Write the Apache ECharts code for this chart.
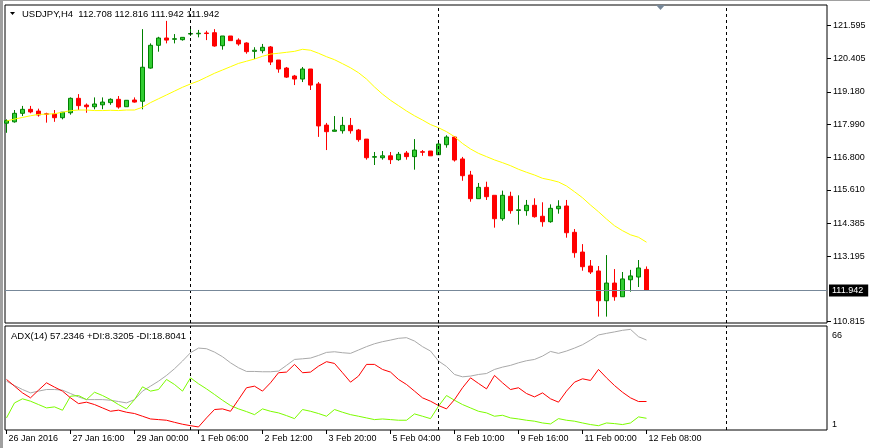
<!DOCTYPE html>
<html><head><meta charset="utf-8">
<script src="https://cdn.jsdelivr.net/npm/echarts@6/dist/echarts.min.js"></script>
<style>html,body{margin:0;padding:0;background:#fff}#c{width:870px;height:448px}</style>
</head><body><div id="c"></div><script>
const symbol = 'USDJPY,H4';
const timeLabels = ['26 Jan 2016','27 Jan 16:00','29 Jan 00:00','1 Feb 06:00','2 Feb 12:00','3 Feb 20:00','5 Feb 04:00','8 Feb 10:00','9 Feb 16:00','11 Feb 00:00','12 Feb 08:00'];
const labelBars = [0,8,16,24,32,40,48,56,64,72,80];
const opens = [118.04,118.09,118.40,118.545,118.48,118.38,118.375,118.24,118.42,118.947,
118.70,118.64,118.71,118.79,118.91,118.64,118.885,118.84,120.05,120.88,
121.146,121.10,121.085,121.29,121.30,121.33,121.34,120.866,121.22,121.07,
120.964,120.66,120.683,120.82,120.344,120.05,119.76,119.65,120.016,119.47,
117.97,117.744,117.765,117.96,117.79,117.46,116.80,116.78,116.85,116.71,
116.95,116.82,117.00,117.025,116.89,117.255,117.535,116.735,116.15,115.287,
115.70,115.41,114.556,115.374,114.86,114.85,115.045,114.645,114.447,114.92,
115.02,114.06,113.34,112.83,112.65,111.565,112.21,111.71,112.33,112.43,
112.708];
const highs = [118.18,118.52,118.67,118.67,118.57,118.42,118.52,118.44,118.98,119.10,
118.76,118.98,118.98,118.947,119.03,118.88,118.98,121.47,120.95,121.19,
121.77,121.29,121.17,121.54,121.44,121.41,121.47,121.22,121.22,121.135,
120.99,120.81,120.93,120.855,120.344,120.09,119.80,120.09,120.016,119.54,
118.05,118.30,118.27,118.23,117.83,117.46,116.99,117.025,116.99,116.99,
117.025,117.46,117.06,117.025,117.317,117.60,117.57,116.81,116.30,115.86,
115.906,115.41,115.58,115.54,115.41,115.24,115.30,115.155,115.08,115.23,
115.24,114.18,113.63,113.05,112.83,113.23,112.72,112.613,112.69,113.05,
112.816];
const lows = [117.69,118.06,118.30,118.40,118.28,118.06,118.09,118.18,118.35,118.52,
118.42,118.545,118.55,118.71,118.57,118.64,118.79,118.545,120.027,120.647,
120.95,120.95,121.05,121.22,121.17,121.07,120.83,120.72,121.05,120.866,
120.574,120.38,120.59,120.16,119.88,119.69,119.43,119.54,119.25,117.54,
117.06,117.74,117.66,117.66,117.365,116.71,116.515,116.71,116.55,116.67,
116.71,116.345,116.85,116.85,116.89,117.146,116.64,115.94,115.177,115.287,
115.24,114.23,114.48,114.74,114.34,114.665,114.595,114.265,114.41,114.74,
113.864,113.134,112.66,112.54,110.985,110.985,111.565,111.71,111.895,112.065,
111.942];
const closes = [118.13,118.40,118.545,118.45,118.34,118.37,118.24,118.44,118.947,118.68,
118.64,118.74,118.81,118.91,118.63,118.875,118.81,120.08,120.88,121.146,
121.07,121.12,121.17,121.31,121.32,121.31,120.855,121.22,121.05,120.93,
120.647,120.70,120.807,120.27,120.016,119.72,119.65,120.016,119.43,117.94,
117.73,117.79,117.96,117.765,117.44,116.78,116.82,116.85,116.71,116.905,
116.82,117.06,116.98,116.85,117.28,117.535,116.697,116.125,115.287,115.70,
115.36,114.556,115.41,114.85,114.88,115.045,114.63,114.447,114.935,115.01,
114.045,113.317,112.806,112.613,111.565,112.21,111.71,112.36,112.47,112.76,
111.942];
const ma = [118.12,118.19,118.25,118.31,118.36,118.37,118.385,118.44,118.495,118.52,
118.52,118.50,118.50,118.51,118.50,118.52,118.52,118.62,118.79,118.93,
119.07,119.21,119.35,119.47,119.58,119.72,119.86,119.98,120.10,120.22,
120.30,120.38,120.48,120.56,120.59,120.625,120.66,120.735,120.70,120.59,
120.465,120.355,120.21,120.06,119.88,119.65,119.36,119.10,118.875,118.68,
118.485,118.31,118.156,117.99,117.875,117.73,117.548,117.30,117.10,116.94,
116.82,116.70,116.60,116.49,116.36,116.25,116.15,116.03,115.97,115.895,
115.75,115.54,115.32,115.055,114.81,114.545,114.30,114.12,113.97,113.88,
113.70];
const adx = [31.5,28.8,26.3,24.2,25.3,26.3,26.3,25.9,23.8,21.7,
20.0,20.0,20.0,19.6,18.8,17.95,20.0,25.3,28.4,31.5,
35.1,39.3,44.1,49.3,52.2,51.8,49.7,46.8,43.0,39.9,
37.6,37.6,37.4,37.4,37.8,41.4,45.1,45.5,45.96,47.6,
49.5,49.9,49.3,48.9,51.0,53.1,54.9,56.2,57.2,58.3,
58.7,56.6,53.1,50.35,44.1,40.7,35.7,34.25,34.7,35.7,
36.3,38.85,40.3,41.4,43.0,44.3,45.1,47.2,50.1,48.9,
50.35,52.2,54.3,57.2,60.4,61.4,62.3,63.3,63.9,59.3,
57.2346];
const plusDI = [8.55,17.95,20.5,19.0,16.9,14.8,15.45,13.35,22.1,22.55,
20.0,24.6,22.55,20.0,16.9,14.2,20.0,28.0,25.3,26.3,
32.6,29.45,25.3,33.6,29.9,26.7,23.2,19.6,16.3,14.2,
12.5,10.6,14.2,12.7,11.7,10.0,8.1,13.8,12.7,11.3,
9.6,13.8,12.1,10.6,9.6,8.55,7.5,7.9,7.5,7.1,
7.1,11.05,9.6,8.1,15.9,22.55,19.6,16.9,14.8,12.7,
11.7,9.6,10.2,8.55,7.9,7.1,6.5,5.4,4.8,8.1,
7.1,6.5,5.4,4.4,3.7,5.4,5.0,4.4,5.4,9.2,
8.3205];
const minusDI = [32.6,28.4,24.2,21.1,25.9,30.5,27.8,25.3,21.1,17.5,
18.4,16.9,14.8,12.7,13.4,12.1,11.3,9.6,7.9,7.5,
7.1,5.8,4.6,3.7,2.9,8.55,13.8,14.2,12.7,20.0,
27.4,28.4,25.3,30.5,36.8,37.2,42.0,36.8,37.2,40.9,
43.7,42.6,36.8,30.9,34.7,42.0,42.0,38.85,37.2,32.6,
29.45,25.3,21.1,19.0,16.3,14.2,20.0,27.4,33.6,30.1,
26.7,35.1,30.5,26.3,27.4,23.8,21.7,24.2,20.5,18.4,
25.3,30.9,33.0,31.96,38.85,33.6,28.8,24.6,21.1,18.8,
18.8041];
const priceTicks = [121.595,120.405,119.180,117.990,116.800,115.610,114.385,113.195,110.815];
const adxTicks = [1,66];
const separators = [23,54,90];
const lastPrice = 111.942;

const FONT = '"Liberation Sans", Arial, sans-serif';
const n = opens.length;
const xMin = -0.1875, xMax = -0.1875 + 822/8;
const candleData = opens.map((o,i)=>[i, o, closes[i], lows[i], highs[i]]);
const toXY = arr => arr.map((v,i)=>[i,v]);
const sepLine = () => ({
  symbol:'none', silent:true, animation:false,
  lineStyle:{color:'#000', type:[3,3], width:1},
  label:{show:false},
  data: separators.map(s=>({xAxis:s}))
});

const chart = echarts.init(document.getElementById('c'), null, {renderer:'canvas'});
chart.setOption({
  animation:false,
  backgroundColor:'#fff',
  grid:[
    {left:5, top:5, width:822, height:318, show:true, borderColor:'#000', borderWidth:1, backgroundColor:'#fff'},
    {left:5, top:326, width:822, height:104, show:true, borderColor:'#000', borderWidth:1, backgroundColor:'#fff'}
  ],
  xAxis:[
    {type:'value', gridIndex:0, min:xMin, max:xMax, axisLine:{show:false, onZero:false}, axisTick:{show:false}, axisLabel:{show:false}, splitLine:{show:false}},
    {type:'value', gridIndex:1, min:xMin, max:xMax, axisLine:{show:false, onZero:false}, splitLine:{show:false},
      axisTick:{show:true, customValues:labelBars, length:4, inside:false, lineStyle:{color:'#000'}},
      axisLabel:{show:true, customValues:labelBars, align:'left', margin:4, padding:[0,0,0,2],
        fontFamily:FONT, fontSize:9, color:'#000',
        formatter: v => timeLabels[labelBars.indexOf(Math.round(v))] || ''}}
  ],
  yAxis:[
    {type:'value', gridIndex:0, position:'right', min:110.753, max:122.350, scale:true,
      axisLine:{show:false, onZero:false}, splitLine:{show:false},
      axisTick:{show:true, customValues:priceTicks, length:4, inside:false, lineStyle:{color:'#000'}},
      axisLabel:{show:true, customValues:priceTicks, margin:6, fontFamily:FONT, fontSize:9, color:'#000',
        formatter: v => v.toFixed(3)}},
    {type:'value', gridIndex:1, position:'right', min:1, max:66,
      axisLine:{show:false, onZero:false}, splitLine:{show:false}, axisTick:{show:false},
      axisLabel:{show:true, customValues:adxTicks, margin:5, fontFamily:FONT, fontSize:9, color:'#000',
        verticalAlignMinLabel:'bottom', verticalAlignMaxLabel:'top', padding:[5,0,1,0],
        formatter: v => String(Math.round(v))}}
  ],
  series:[
    {type:'candlestick', xAxisIndex:0, yAxisIndex:0, data:candleData, encode:{x:0, y:[1,2,3,4]},
      barWidth:4, silent:true,
      itemStyle:{color:'#32CD32', color0:'#FF0000', borderColor:'#008000', borderColor0:'#FF0000', borderWidth:1}},
    {type:'line', xAxisIndex:0, yAxisIndex:0, data:toXY(ma), symbol:'none', silent:true, clip:false,
      lineStyle:{color:'#FFFF00', width:1}, markLine: sepLine()},
    {type:'line', xAxisIndex:0, yAxisIndex:0, data:[], symbol:'none', silent:true, clip:false,
      markLine:{symbol:'none', silent:true, animation:false,
        lineStyle:{color:'#778899', type:'solid', width:1},
        label:{show:true, position:'end', formatter: lastPrice.toFixed(3), backgroundColor:'#000', color:'#fff',
          padding:[2,5,1,3], distance:2, fontFamily:FONT, fontSize:9},
        data:[{yAxis:lastPrice}]}},
    {type:'line', xAxisIndex:1, yAxisIndex:1, data:toXY(adx), symbol:'none', silent:true,
      lineStyle:{color:'#A9A9A9', width:1}, markLine: sepLine()},
    {type:'line', xAxisIndex:1, yAxisIndex:1, data:toXY(plusDI), symbol:'none', silent:true,
      lineStyle:{color:'#7CFC00', width:1}},
    {type:'line', xAxisIndex:1, yAxisIndex:1, data:toXY(minusDI), symbol:'none', silent:true,
      lineStyle:{color:'#FF0000', width:1}}
  ],
  graphic:[
    {type:'rect', shape:{x:0, y:0, width:870, height:1}, style:{fill:'#a0a0a0'}, silent:true},
    {type:'rect', shape:{x:0, y:0, width:3, height:448}, style:{fill:'#a0a0a0'}, silent:true},
    {type:'polygon', shape:{points:[[10,12],[15,12],[12.5,15]]}, style:{fill:'#000'}, silent:true},
    {type:'text', x:22, y:14, style:{text: symbol + '  ' + [opens[n-1],highs[n-1],lows[n-1],closes[n-1]].map(v=>v.toFixed(3)).join(' '),
      fill:'#000', font:'9.5px ' + FONT, verticalAlign:'middle'}, silent:true},
    {type:'polygon', shape:{points:[[656,5],[665,5],[660.5,10]]}, style:{fill:'#778899'}, silent:true},
    {type:'text', x:11, y:336, style:{text:'ADX(14) ' + adx[n-1].toFixed(4) + ' +DI:' + plusDI[n-1].toFixed(4) + ' -DI:' + minusDI[n-1].toFixed(4),
      fill:'#000', font:'9.5px ' + FONT, verticalAlign:'middle'}, silent:true}
  ]
});
</script></body></html>
